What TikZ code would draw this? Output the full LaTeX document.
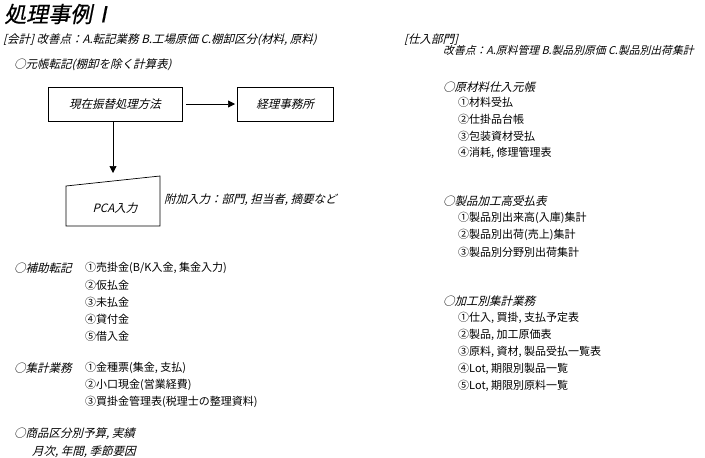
\documentclass[tikz,border=0pt]{standalone}
\usepackage{fontspec}
\newfontfamily\jp{Noto Sans CJK JP}
\newfontfamily\jpit[FakeSlant=0.25]{Noto Sans CJK JP}
\newfontfamily\jpti[FakeSlant=0.2,FakeBold=0.6]{Noto Sans CJK JP}
\usetikzlibrary{arrows.meta}
\tikzset{
  txt/.style={anchor=west,inner sep=0pt,font=\jp\fontsize{11}{11}\selectfont},
  itx/.style={anchor=west,inner sep=0pt,font=\jpit\fontsize{11.5}{11.5}\selectfont},
  boxx/.style={draw,line width=0.7pt,minimum width=134pt,minimum height=34pt,inner sep=0pt,font=\jpit\fontsize{11.5}{11.5}\selectfont},
  arr/.style={-{Triangle[length=7pt,width=7pt]},line width=0.7pt}
}
\begin{document}
\begin{tikzpicture}[x=1pt,y=-1pt]
\useasboundingbox (0,0) rectangle (705,458);
% title
\node[anchor=west,inner sep=0pt,font=\jpti\fontsize{22}{22}\selectfont] (title) at (4,14) {処理事例Ⅰ};
\node[itx] (kaikei) at (3,40) {[会計] 改善点：A.転記業務 B.工場原価 C.棚卸区分(材料, 原料)};
\node[itx] (motocho) at (14,65) {○元帳転記(棚卸を除く計算表)};
% flow
\node[boxx] (b1) at (115,104) {現在振替処理方法};
\node[boxx,minimum width=96pt] (b2) at (285,104) {経理事務所};
\draw[arr] (b1.east) ++(4,0) coordinate (s1) -- (b2.west -| 235,0) ;
\coordinate (pTL) at (66,186);
\coordinate (pTR) at (160,176);
\coordinate (pBR) at (160,226);
\coordinate (pBL) at (66,226);
\draw[line width=0.7pt] (pTL) -- (pTR) -- (pBR) -- (pBL) -- cycle;
\node[itx,anchor=center] (pca) at (115,208) {PCA入力};
\coordinate (pin) at (113,173);
\draw[arr] (b1.south -| pin) -- (pin);
\node[itx] (fuka) at (164,200) {附加入力：部門, 担当者, 摘要など};
% hojo
\node[itx] (hojo) at (14,268) {○補助転記};
\node[txt] (h1) at (85,268) {①売掛金(B/K入金, 集金入力)};
\node[txt] (h2) at (85,285) {②仮払金};
\node[txt] (h3) at (85,302) {③未払金};
\node[txt] (h4) at (85,319) {④貸付金};
\node[txt] (h5) at (85,336) {⑤借入金};
% shukei
\node[itx] (shukei) at (14,368) {○集計業務};
\node[txt] (s1n) at (85,368) {①金種票(集金, 支払)};
\node[txt] (s2n) at (85,385) {②小口現金(営業経費)};
\node[txt] (s3n) at (85,402) {③買掛金管理表(税理士の整理資料)};
% shohin
\node[itx] (shohin) at (14,434) {○商品区分別予算, 実績};
\node[itx] (getsuji) at (32,452) {月次, 年間, 季節要因};
% right column
\node[itx] (shiire) at (404,40) {[仕入部門]};
\node[itx,font=\jpit\fontsize{10.8}{10.8}\selectfont] (kaizen) at (443,50) {改善点：A.原料管理 B.製品別原価 C.製品別出荷集計};
\node[itx] (genzai) at (443,87) {○原材料仕入元帳};
\node[txt] (g1) at (458,102) {①材料受払};
\node[txt] (g2) at (458,119) {②仕掛品台帳};
\node[txt] (g3) at (458,136) {③包装資材受払};
\node[txt] (g4) at (458,153) {④消耗, 修理管理表};
\node[itx] (seihin) at (443,201) {○製品加工高受払表};
\node[txt] (e1) at (458,218) {①製品別出来高(入庫)集計};
\node[txt] (e2) at (458,235) {②製品別出荷(売上)集計};
\node[txt] (e3) at (458,252) {③製品別分野別出荷集計};
\node[itx] (kakou) at (443,301) {○加工別集計業務};
\node[txt] (k1) at (458,318) {①仕入, 買掛, 支払予定表};
\node[txt] (k2) at (458,335) {②製品, 加工原価表};
\node[txt] (k3) at (458,352) {③原料, 資材, 製品受払一覧表};
\node[txt] (k4) at (458,369) {④Lot, 期限別製品一覧};
\node[txt] (k5) at (458,386) {⑤Lot, 期限別原料一覧};
\end{tikzpicture}
\end{document}
